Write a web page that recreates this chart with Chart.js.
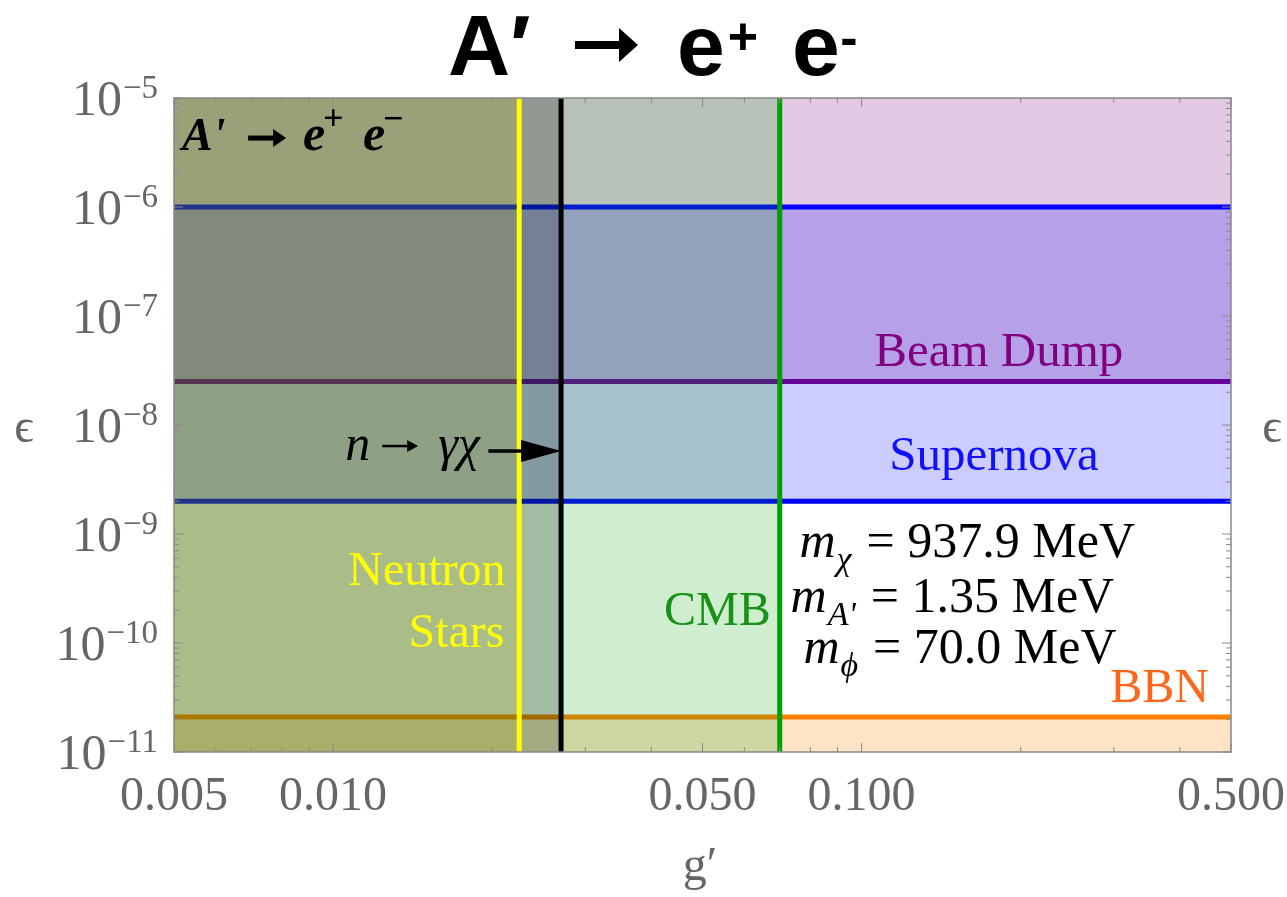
<!DOCTYPE html>
<html>
<head>
<meta charset="utf-8">
<script src="https://cdn.jsdelivr.net/npm/chart.js@4.4.0/dist/chart.umd.min.js"></script>
<style>
  html, body { margin: 0; padding: 0; background: #fff; }
  #wrap { width: 1287px; height: 897px; }
</style>
</head>
<body>
<div id="wrap"><canvas id="myChart" width="1287" height="897"></canvas></div>
<script>
// axes
const gRange = [0.005, 0.5];
const epsRange = [1e-11, 1e-5];
const gTicks = [0.005, 0.01, 0.05, 0.1, 0.5];
const gTickLabels = ["0.005", "0.010", "0.050", "0.100", "0.500"];
const epsExponents = [-11, -10, -9, -8, -7, -6, -5];

// constraint boundaries
const neutronStarG = 0.0225;
const neutronDecayG = 0.027;
const cmbG = 0.07;
const supernovaEps = [2e-9, 1e-6];
const beamDumpEps = 2.5e-8;
const bbnEps = 2.1e-11;

const serif = '"Liberation Serif", "DejaVu Serif", serif';
const sans = '"Liberation Sans", Arial, sans-serif';

const hLine = (eps, color, order) => ({
  data: [{ x: gRange[0], y: eps }, { x: gRange[1], y: eps }],
  borderColor: color, borderWidth: 5, fill: false, order,
});
const vLine = (g, color, order) => ({
  data: [{ x: g, y: epsRange[0] }, { x: g, y: epsRange[1] }],
  borderColor: color, borderWidth: 5, fill: false, order,
});
const region = (x0, x1, yTop, yBottom, color, order) => ({
  data: [{ x: x0, y: yTop }, { x: x1, y: yTop }],
  borderColor: "rgba(0,0,0,0)", borderWidth: 0,
  backgroundColor: color, fill: { value: yBottom }, order,
});

const datasets = [
  vLine(neutronStarG, "#ffff00", 1),
  vLine(neutronDecayG, "#000000", 1),
  vLine(cmbG, "#00a000", 1),
  region(gRange[0], neutronDecayG, epsRange[1], epsRange[0], "rgba(0,0,0,0.21)", 10),
  region(gRange[0], neutronStarG, epsRange[1], epsRange[0], "rgba(255,255,0,0.17)", 11),
  region(gRange[0], cmbG, epsRange[1], epsRange[0], "rgba(0,160,0,0.19)", 12),
  hLine(supernovaEps[0], "#0000ff", 20),
  hLine(supernovaEps[1], "#0000ff", 20),
  region(gRange[0], gRange[1], supernovaEps[1], supernovaEps[0], "rgba(0,0,255,0.2)", 21),
  hLine(beamDumpEps, "#800080", 30),
  region(gRange[0], gRange[1], epsRange[1], beamDumpEps, "rgba(128,0,128,0.21)", 31),
  hLine(bbnEps, "#ff8000", 40),
  region(gRange[0], gRange[1], bbnEps, epsRange[0], "rgba(255,128,0,0.22)", 41),
];

function put(ctx, s, x, y, font, color, align) {
  ctx.font = font;
  ctx.fillStyle = color;
  ctx.textAlign = align || "left";
  ctx.textBaseline = "alphabetic";
  ctx.fillText(s, x, y);
  return ctx.measureText(s).width;
}

function arrow(ctx, x0, x1, y, shaft, headLen, headHalf) {
  ctx.fillStyle = "#000";
  ctx.fillRect(x0, y - shaft / 2, x1 - x0 - headLen + 2, shaft);
  ctx.beginPath();
  ctx.moveTo(x1, y);
  ctx.lineTo(x1 - headLen, y - headHalf);
  ctx.lineTo(x1 - headLen, y + headHalf);
  ctx.closePath();
  ctx.fill();
}

function massLine(ctx, x, y, sub, rest) {
  let w = put(ctx, "m", x, y, "italic 50px " + serif, "#000");
  let sw = put(ctx, sub, x + w + 1, y + 13, "italic 34px " + serif, "#000");
  put(ctx, rest, x + w + sw + 16, y, "50px " + serif, "#000");
}

const decorations = {
  id: "decorations",
  afterDraw(chart) {
    const ctx = chart.ctx;
    const xs = chart.scales.x, ys = chart.scales.y;
    const a = chart.chartArea;
    const px = (g) => xs.getPixelForValue(g);
    const py = (e) => ys.getPixelForValue(e);
    ctx.save();

    // frame
    ctx.strokeStyle = "#888";
    ctx.lineWidth = 1.5;
    ctx.strokeRect(a.left, a.top, a.right - a.left, a.bottom - a.top);

    // inward ticks
    ctx.lineWidth = 1;
    ctx.beginPath();
    [0.001, 0.01, 0.1].forEach((d) => {
      for (let m = 1; m <= 9; m++) {
        const v = m * d;
        if (v < gRange[0] * 0.999 || v > gRange[1] * 1.001) continue;
        const len = gTicks.some((t) => Math.abs(t - v) < 1e-9) ? 9 : 5;
        const x = px(v);
        ctx.moveTo(x, a.bottom); ctx.lineTo(x, a.bottom - len);
        ctx.moveTo(x, a.top); ctx.lineTo(x, a.top + len);
      }
    });
    for (let e = -11; e <= -5; e++) {
      for (let m = 1; m <= 9; m++) {
        const v = m * Math.pow(10, e);
        if (v > epsRange[1] * 1.001) continue;
        const len = m === 1 ? 9 : 5;
        const y = py(v);
        ctx.moveTo(a.left, y); ctx.lineTo(a.left + len, y);
        ctx.moveTo(a.right, y); ctx.lineTo(a.right - len, y);
      }
    }
    ctx.stroke();

    // tick labels
    const grey = "#666";
    gTicks.forEach((t, i) => put(ctx, gTickLabels[i], px(t), 810, "48px " + serif, grey, "center"));
    epsExponents.forEach((e) => {
      const y = py(Math.pow(10, e));
      const w = put(ctx, "\u2212" + Math.abs(e), 158, y, "33px " + serif, grey, "right");
      put(ctx, "10", 158 - w - 1, y + 17, "50px " + serif, grey, "right");
    });

    // axis titles
    put(ctx, "g\u2032", 700, 880, "48px " + serif, grey, "center");
    put(ctx, "\u03f5", 24, 442, "48px " + serif, grey, "center");
    put(ctx, "\u03f5", 1272, 442, "48px " + serif, grey, "center");

    // region labels
    put(ctx, "Beam Dump", px(0.1818), py(3.48e-8), "49px " + serif, "#800080", "center");
    put(ctx, "Supernova", px(0.178), py(3.86e-9), "49px " + serif, "#1010ff", "center");
    put(ctx, "BBN", px(0.454), py(2.88e-11), "48px " + serif, "#ff6619", "right");
    put(ctx, "CMB", px(0.0673), py(1.46e-10), "48px " + serif, "#179217", "right");
    put(ctx, "Neutron", px(0.0212), py(3.4e-10), "48px " + serif, "#ffff00", "right");
    put(ctx, "Stars", px(0.0211), py(9.2e-11), "48px " + serif, "#ffff00", "right");

    massLine(ctx, px(0.0763), py(6.15e-10), "\u03c7", "= 937.9 MeV");
    massLine(ctx, px(0.0734), py(1.92e-10), "A'", "= 1.35 MeV");
    massLine(ctx, px(0.0776), py(6.56e-11), "\u03d5", "= 70.0 MeV");

    // n -> gamma chi with arrow to the black line
    let x = px(0.01054), y = py(4.77e-9);
    x += put(ctx, "n", x, y, "italic 50px " + serif, "#000");
    arrow(ctx, x + 12, x + 48, y - 14, 2.5, 11, 6);
    put(ctx, "\u03b3\u03c7", x + 68, y, "italic 50px " + serif, "#000");
    const ay = py(5.77e-9), ax0 = px(0.01967), ax1 = px(neutronDecayG);
    arrow(ctx, ax0, ax1, ay, 3.5, 40, 11);

    // in-plot process label
    x = px(0.00518); y = py(3.33e-6);
    put(ctx, "A'", x, y, "italic bold 46px " + serif, "#000");
    arrow(ctx, x + 66, x + 104, y - 12, 5, 13, 9);
    put(ctx, "e", x + 121, y, "italic bold 50px " + serif, "#000");
    put(ctx, "+", x + 141, y - 20, "bold 36px " + serif, "#000");
    put(ctx, "e", x + 181, y, "italic bold 50px " + serif, "#000");
    put(ctx, "\u2212", x + 201, y - 20, "bold 36px " + serif, "#000");

    // title
    put(ctx, "A\u2032", 448, 75, "bold 86px " + sans, "#000");
    arrow(ctx, 575, 638, 45, 8, 19, 17);
    put(ctx, "e", 677, 75, "bold 86px " + sans, "#000");
    put(ctx, "+", 743, 54, "bold 52px " + sans, "#000", "center");
    put(ctx, "e", 792, 75, "bold 86px " + sans, "#000");
    put(ctx, "-", 849, 55, "bold 52px " + sans, "#000", "center");

    ctx.restore();
  },
};

const ctx = document.getElementById("myChart").getContext("2d");
const myChart = new Chart(ctx, {
  type: "line",
  data: { datasets },
  options: {
    responsive: false,
    animation: false,
    devicePixelRatio: 1,
    layout: { padding: { left: 174, right: 56, top: 98, bottom: 145 } },
    elements: { point: { radius: 0 }, line: { tension: 0 } },
    plugins: {
      legend: false,
      tooltip: { enabled: false },
      filler: { drawTime: "beforeDatasetDraw" },
    },
    scales: {
      x: { type: "logarithmic", min: gRange[0], max: gRange[1], display: false },
      y: { type: "logarithmic", min: epsRange[0], max: epsRange[1], display: false },
    },
  },
  plugins: [decorations],
});
</script>
</body>
</html>
